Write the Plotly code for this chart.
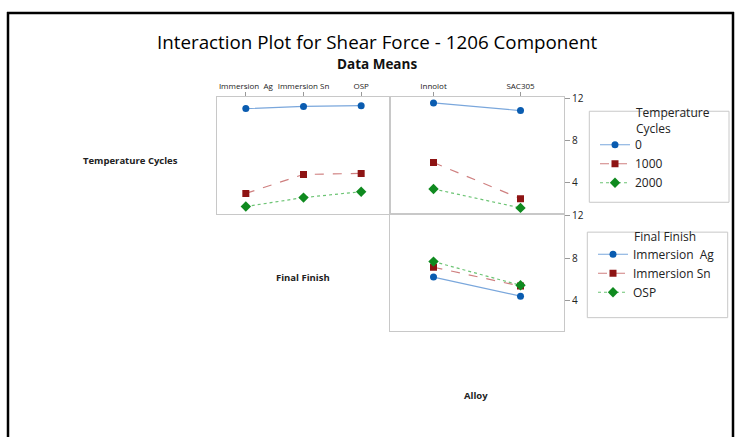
import plotly.graph_objects as go

W, H = 737, 437

finishes = ["Immersion  Ag", "Immersion Sn", "OSP"]
alloys = ["Innolot", "SAC305"]
cycles = ["0", "1000", "2000"]

# Temperature Cycles x Final Finish (top-left panel), rows = cycles
tc_by_finish = {
    "0":    [11.06, 11.27, 11.34],
    "1000": [3.0, 4.8, 4.9],
    "2000": [1.75, 2.6, 3.16],
}
# Temperature Cycles x Alloy (top-right panel)
tc_by_alloy = {
    "0":    [11.6, 10.87],
    "1000": [5.93, 2.5],
    "2000": [3.42, 1.62],
}
# Final Finish x Alloy (bottom-right panel)
ff_by_alloy = {
    "Immersion  Ag": [6.24, 4.45],
    "Immersion Sn":  [7.17, 5.4],
    "OSP":           [7.7, 5.47],
}

styles = [
    dict(line=dict(color="#7aa7dc", width=1.2, dash="solid"),
         marker=dict(color="#0a5cb0", symbol="circle", size=7)),
    dict(line=dict(color="#cf8080", width=1.2, dash="dash"),
         marker=dict(color="#8e1414", symbol="square", size=7)),
    dict(line=dict(color="#6cc474", width=1.2, dash="dot"),
         marker=dict(color="#0f8a1f", symbol="diamond", size=8)),
]

FONT = "Open Sans"

def px(x):
    return x / W

def py(y):
    return 1 - y / H

fig = go.Figure()

for i, c in enumerate(cycles):
    fig.add_trace(go.Scatter(x=finishes, y=tc_by_finish[c], mode="lines+markers",
                             name=c, xaxis="x", yaxis="y", legend="legend",
                             legendgroup="tc", **styles[i]))
    fig.add_trace(go.Scatter(x=alloys, y=tc_by_alloy[c], mode="lines+markers",
                             name=c, xaxis="x2", yaxis="y2", showlegend=False,
                             legendgroup="tc", **styles[i]))
for i, f in enumerate(finishes):
    fig.add_trace(go.Scatter(x=alloys, y=ff_by_alloy[f], mode="lines+markers",
                             name=f, xaxis="x3", yaxis="y3", legend="legend2",
                             legendgroup="ff", **styles[i]))

frame = dict(showline=True, linecolor="#c8c8c8", linewidth=1, mirror=True,
             showgrid=False, zeroline=False)
tickfont_x = dict(family=FONT, size=8, color="#222222")
tickfont_y = dict(family=FONT, size=10, color="#222222")

xl = [px(217), px(390)]
xr = [px(390), px(564)]
yt = [py(211), py(92)]
yb = [py(329.3), py(211)]

fig.update_layout(
    width=W, height=H,
    margin=dict(l=0, r=0, t=0, b=0),
    paper_bgcolor="white", plot_bgcolor="white",
    xaxis=dict(domain=xl, anchor="y", side="top", type="category",
               categoryorder="array", categoryarray=finishes, range=[-0.5, 2.5],
               ticks="outside", ticklen=4, tickcolor="#999999",
               tickfont=tickfont_x, **frame),
    yaxis=dict(domain=yt, anchor="x", range=[1.03, 12.19],
               showticklabels=False, ticks="", **frame),
    xaxis2=dict(domain=xr, anchor="y2", side="top", type="category",
                categoryorder="array", categoryarray=alloys, range=[-0.5, 1.5],
                ticks="outside", ticklen=4, tickcolor="#999999",
                tickfont=tickfont_x, **frame),
    yaxis2=dict(domain=yt, anchor="x2", side="right", range=[1.03, 12.19],
                tickvals=[4, 8, 12], ticks="outside", ticklen=5, tickcolor="#999999",
                tickfont=tickfont_y, **frame),
    xaxis3=dict(domain=xr, anchor="y3", type="category",
                categoryorder="array", categoryarray=alloys, range=[-0.5, 1.5],
                showticklabels=False, ticks="", **frame),
    yaxis3=dict(domain=yb, anchor="x3", side="right", range=[1.2, 12.16],
                tickvals=[4, 8, 12], ticks="outside", ticklen=5, tickcolor="#999999",
                tickfont=tickfont_y, **frame),
    legend=dict(x=px(595), y=py(126), xanchor="left", yanchor="top",
                bgcolor="rgba(0,0,0,0)", borderwidth=0, tracegroupgap=0,
                font=dict(family=FONT, size=12, color="#222222")),
    legend2=dict(x=px(593), y=py(237), xanchor="left", yanchor="top",
                 bgcolor="rgba(0,0,0,0)", borderwidth=0, tracegroupgap=0,
                 font=dict(family=FONT, size=12, color="#222222")),
    showlegend=True,
    hovermode=False,
)

shapes = [
    # legend boxes
    dict(type="rect", xref="paper", yref="paper", x0=px(589.3), x1=px(729),
         y0=py(199), y1=py(106.7), line=dict(color="#c8c8c8", width=1)),
    dict(type="rect", xref="paper", yref="paper", x0=px(587.3), x1=px(727.7),
         y0=py(316), y1=py(229.3), line=dict(color="#c8c8c8", width=1)),
    # outer border (left, top, right)
    dict(type="line", xref="paper", yref="paper", x0=px(8), x1=px(8),
         y0=0, y1=py(6), line=dict(color="black", width=2.5)),
    dict(type="line", xref="paper", yref="paper", x0=px(7), x1=px(734),
         y0=py(7), y1=py(7), line=dict(color="black", width=2.5)),
    dict(type="line", xref="paper", yref="paper", x0=px(733), x1=px(733),
         y0=0, y1=py(6), line=dict(color="black", width=2.5)),
]
fig.update_layout(shapes=shapes)

def ann(text, x, y, size, bold=False, xanchor="center", color="#111111"):
    return dict(text=f"<b>{text}</b>" if bold else text, x=px(x), y=py(y),
                xref="paper", yref="paper", xanchor=xanchor, yanchor="middle",
                align="left" if xanchor == "left" else "center",
                showarrow=False, font=dict(family=FONT, size=size, color=color))

fig.update_layout(annotations=[
    ann("Interaction Plot for Shear Force - 1206 Component", 377, 36, 18.8, color="#000000"),
    ann("Data Means", 377, 59, 13.5, bold=True),
    ann("Temperature Cycles", 130, 157, 9.5, bold=True, color="#222222"),
    ann("Final Finish", 303, 275, 9.5, bold=True, color="#222222"),
    ann("Alloy", 476, 395, 9.5, bold=True, color="#222222"),
    ann("Temperature<br>Cycles", 634, 116, 12, xanchor="left", color="#222222"),
    ann("Final Finish", 632, 234, 12, xanchor="left", color="#222222"),
])

fig.write_html("out.html", config={"displayModeBar": False},
               post_script="document.body.style.margin='0';")
